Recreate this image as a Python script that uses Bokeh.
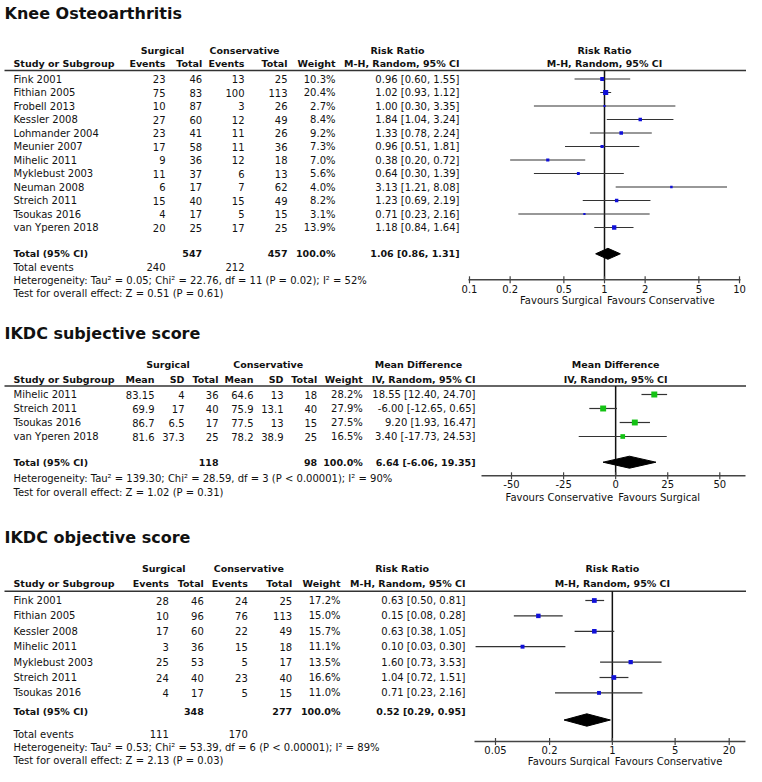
import math
from bokeh.plotting import figure
from bokeh.models import Range1d, LogScale, LinearScale, ColumnDataSource
from bokeh.core.properties import value
from bokeh.embed import file_html
from bokeh.resources import INLINE

# ------------------------------------------------------------------ data
# Panel 1 : Knee Osteoarthritis (Risk Ratio)
knee_studies = ["Fink 2001", "Fithian 2005", "Frobell 2013", "Kessler 2008", "Lohmander 2004",
                "Meunier 2007", "Mihelic 2011", "Myklebust 2003", "Neuman 2008", "Streich 2011",
                "Tsoukas 2016", "van Yperen 2018"]
knee_surg_events = [23, 75, 10, 27, 23, 17, 9, 11, 6, 15, 4, 20]
knee_surg_total = [46, 83, 87, 60, 41, 58, 36, 37, 17, 40, 17, 25]
knee_cons_events = [13, 100, 3, 12, 11, 11, 12, 6, 7, 15, 5, 17]
knee_cons_total = [25, 113, 26, 49, 26, 36, 18, 13, 62, 49, 15, 25]
knee_weight = [10.3, 20.4, 2.7, 8.4, 9.2, 7.3, 7.0, 5.6, 4.0, 8.2, 3.1, 13.9]
knee_rr = [0.96, 1.02, 1.00, 1.84, 1.33, 0.96, 0.38, 0.64, 3.13, 1.23, 0.71, 1.18]
knee_lo = [0.60, 0.93, 0.30, 1.04, 0.78, 0.51, 0.20, 0.30, 1.21, 0.69, 0.23, 0.84]
knee_hi = [1.55, 1.12, 3.35, 3.24, 2.24, 1.81, 0.72, 1.39, 8.08, 2.19, 2.16, 1.64]
knee_total = [1.06, 0.86, 1.31]
knee_total_n = [547, 457]
knee_total_events = [240, 212]
knee_het = "Heterogeneity: Tau\u00b2 = 0.05; Chi\u00b2 = 22.76, df = 11 (P = 0.02); I\u00b2 = 52%"
knee_test = "Test for overall effect: Z = 0.51 (P = 0.61)"
knee_ticks = [0.1, 0.2, 0.5, 1, 2, 5, 10]
knee_tick_labels = ["0.1", "0.2", "0.5", "1", "2", "5", "10"]

# Panel 2 : IKDC subjective score (Mean Difference)
subj_studies = ["Mihelic 2011", "Streich 2011", "Tsoukas 2016", "van Yperen 2018"]
subj_surg_mean = [83.15, 69.9, 86.7, 81.6]
subj_surg_sd = [4, 17, 6.5, 37.3]
subj_surg_total = [36, 40, 17, 25]
subj_cons_mean = [64.6, 75.9, 77.5, 78.2]
subj_cons_sd = [13, 13.1, 13, 38.9]
subj_cons_total = [18, 40, 15, 25]
subj_weight = [28.2, 27.9, 27.5, 16.5]
subj_md = [18.55, -6.00, 9.20, 3.40]
subj_lo = [12.40, -12.65, 1.93, -17.73]
subj_hi = [24.70, 0.65, 16.47, 24.53]
subj_total = [6.64, -6.06, 19.35]
subj_total_n = [118, 98]
subj_het = "Heterogeneity: Tau\u00b2 = 139.30; Chi\u00b2 = 28.59, df = 3 (P < 0.00001); I\u00b2 = 90%"
subj_test = "Test for overall effect: Z = 1.02 (P = 0.31)"
subj_ticks = [-50, -25, 0, 25, 50]
subj_tick_labels = ["-50", "-25", "0", "25", "50"]

# Panel 3 : IKDC objective score (Risk Ratio)
obj_studies = ["Fink 2001", "Fithian 2005", "Kessler 2008", "Mihelic 2011", "Myklebust 2003",
               "Streich 2011", "Tsoukas 2016"]
obj_surg_events = [28, 10, 17, 3, 25, 24, 4]
obj_surg_total = [46, 96, 60, 36, 53, 40, 17]
obj_cons_events = [24, 76, 22, 15, 5, 23, 5]
obj_cons_total = [25, 113, 49, 18, 17, 40, 15]
obj_weight = [17.2, 15.0, 15.7, 11.1, 13.5, 16.6, 11.0]
obj_rr = [0.63, 0.15, 0.63, 0.10, 1.60, 1.04, 0.71]
obj_lo = [0.50, 0.08, 0.38, 0.03, 0.73, 0.72, 0.23]
obj_hi = [0.81, 0.28, 1.05, 0.30, 3.53, 1.51, 2.16]
obj_total = [0.52, 0.29, 0.95]
obj_total_n = [348, 277]
obj_total_events = [111, 170]
obj_het = "Heterogeneity: Tau\u00b2 = 0.53; Chi\u00b2 = 53.39, df = 6 (P < 0.00001); I\u00b2 = 89%"
obj_test = "Test for overall effect: Z = 2.13 (P = 0.03)"
obj_ticks = [0.05, 0.2, 1, 5, 20]
obj_tick_labels = ["0.05", "0.2", "1", "5", "20"]

# ------------------------------------------------------------------ layout / style
W, H = 746, 766
X0, X1 = 0, W
Y0, Y1 = 0, H
FONT = "DejaVu Sans"
TXT = "#111111"
LINE = "#333333"
BLUE = "#1010d8"
GREEN = "#14c214"
FS = "10px"
HB = "9.5px"

p = figure(width=W, height=H, x_range=Range1d(X0, X1), y_range=Range1d(Y1, Y0),
           x_axis_type=None, y_axis_type=None, output_backend="svg", toolbar_location=None,
           min_border=0, outline_line_color=None)


def log_range(pa, va, pb, vb):
    k = (math.log10(vb) - math.log10(va)) / (pb - pa)
    la = math.log10(va)
    return Range1d(10 ** (la - (pa - X0) * k), 10 ** (la + (X1 - pa) * k))


def lin_range(pa, va, pb, vb):
    k = (vb - va) / (pb - pa)
    return Range1d(va - (pa - X0) * k, va + (X1 - pa) * k)


# pixel anchors of first/last tick of each forest axis
p.extra_x_ranges = {
    "knee": log_range(469, knee_ticks[0], 739, knee_ticks[-1]),
    "subj": lin_range(511, subj_ticks[0], 719.3, subj_ticks[-1]),
    "obj": log_range(495, obj_ticks[0], 728.7, obj_ticks[-1]),
}
p.extra_x_scales = {"knee": LogScale(), "subj": LinearScale(), "obj": LogScale()}


def add_text(x, y, t, align="left", bold=False, size=FS, rng="default", dx=0):
    src = ColumnDataSource(dict(x=list(x), y=list(y), t=list(t)))
    p.text(x="x", y="y", text="t", source=src, x_range_name=rng, x_offset=dx,
           text_font=value(FONT), text_font_size=size,
           text_font_style="bold" if bold else "normal",
           text_align=align, text_baseline="middle", text_color=TXT)


def fmt_ci(e, lo, hi):
    return f"{e:.2f} [{lo:.2f}, {hi:.2f}]"


def rows_y(L, n):
    return [L["row0"] + i * L["dy"] for i in range(n)]


def draw_forest(L, rng, est, lo, hi, weight, tot, ticks, tick_labels, null, color,
                head1, head2, fav_left, fav_right):
    ys = rows_y(L, len(est))
    add_text([null, null], [L["h1_y"], L["h2_y"]], [head1, head2], align="center", bold=True,
             size=HB, rng=rng)
    # null line
    p.segment(x0=[null], x1=[null], y0=[L["line_y"]], y1=[L["axis_y"]], x_range_name=rng,
              line_color="#111111", line_width=1.5)
    # confidence intervals
    p.segment(x0=lo, x1=hi, y0=ys, y1=ys, x_range_name=rng, line_color=LINE, line_width=1.2)
    # study squares, side ~ sqrt(weight)
    p.scatter(x=est, y=ys, size=[math.sqrt(w) * 1.05 + 0.4 for w in weight], marker="square",
              fill_color=color, line_color=None, x_range_name=rng)
    # pooled diamond
    yd = L["diamond_y"]
    hh = L["diamond_h"]
    p.patch(x=[tot[1], tot[0], tot[2], tot[0]], y=[yd, yd - hh, yd, yd + hh], x_range_name=rng,
            fill_color="#000000", line_color="#000000", line_width=1)
    # axis
    ay = L["axis_y"]
    p.segment(x0=[L["axis_x0"]], x1=[L["axis_x1"]], y0=[ay], y1=[ay], line_color="#444444",
              line_width=1.5)
    p.segment(x0=ticks, x1=ticks, y0=[ay - 3.5] * len(ticks), y1=[ay + 3.5] * len(ticks),
              x_range_name=rng, line_color="#444444", line_width=1.2)
    add_text(ticks, [L["tick_y"]] * len(ticks), tick_labels, align="center", rng=rng)
    add_text([null], [L["fav_y"]], [fav_left], align="right", rng=rng, dx=-2.5)
    add_text([null], [L["fav_y"]], [fav_right], align="left", rng=rng, dx=2.5)


def draw_rr_panel(L, title, studies, e1, n1, e2, n2, w, est, lo, hi, tot, tot_n, tot_ev, het,
                  test, ticks, tick_labels, rng, color):
    ys = rows_y(L, len(studies))
    n = len(studies)
    c = L["cols"]
    add_text([4], [L["title_y"]], [title], bold=True, size="16px")
    h = L["hdr"]
    add_text([h["g1"], h["g2"], h["est"]], [L["h1_y"]] * 3,
             ["Surgical", "Conservative", "Risk Ratio"], align="center", bold=True, size=HB)
    add_text([c["study"]], [L["h2_y"]], ["Study or Subgroup"], bold=True, size=HB)
    add_text([c["e1"], c["n1"], c["e2"], c["n2"], c["w"], c["ci"]], [L["h2_y"]] * 6,
             ["Events", "Total", "Events", "Total", "Weight", "M-H, Random, 95% CI"],
             align="right", bold=True, size=HB)
    p.segment(x0=[4], x1=[L["line_x1"]], y0=[L["line_y"]], y1=[L["line_y"]],
              line_color=LINE, line_width=1.6)
    add_text([c["study"]] * n, ys, studies)
    for key, col in (("e1", e1), ("n1", n1), ("e2", e2), ("n2", n2)):
        add_text([c[key]] * n, ys, [str(v) for v in col], align="right")
    add_text([c["w"]] * n, ys, [f"{v:.1f}%" for v in w], align="right")
    add_text([c["ci"]] * n, ys, [fmt_ci(a, b, d) for a, b, d in zip(est, lo, hi)], align="right")
    ty = L["total_y"]
    add_text([c["study"]], [ty], ["Total (95% CI)"], bold=True, size=HB)
    add_text([c["n1"], c["n2"], c["w"], c["ci"]], [ty] * 4,
             [str(tot_n[0]), str(tot_n[1]), "100.0%", fmt_ci(*tot)], align="right", bold=True,
             size=HB)
    add_text([c["study"]], [L["events_y"]], ["Total events"])
    add_text([c["e1"], c["e2"]], [L["events_y"]] * 2, [str(v) for v in tot_ev], align="right")
    add_text([c["study"], c["study"]], [L["het_y"], L["test_y"]], [het, test])
    draw_forest(L, rng, est, lo, hi, w, tot, ticks, tick_labels, 1, color,
                "Risk Ratio", "M-H, Random, 95% CI", "Favours Surgical", "Favours Conservative")


L1 = dict(title_y=12.5, h1_y=49.5, h2_y=63, line_y=70, row0=78.5, dy=13.5, total_y=252.7,
          diamond_y=253.3, diamond_h=5.5, events_y=266.7, het_y=280, test_y=292.5,
          axis_y=279.3, tick_y=288.5, fav_y=299.5, line_x1=746, axis_x0=468, axis_x1=740,
          cols=dict(study=13, e1=165, n1=201.7, e2=244, n2=287, w=335, ci=459),
          hdr=dict(g1=162, g2=244, est=397))

L3 = dict(title_y=536.7, h1_y=568.3, h2_y=583.3, line_y=590.7, row0=600, dy=15.4, total_y=710.7,
          diamond_y=719.5, diamond_h=6.2, events_y=733.5, het_y=746.5, test_y=759.5,
          axis_y=741, tick_y=749.5, fav_y=760.5, line_x1=746, axis_x0=474, axis_x1=745,
          cols=dict(study=13, e1=168.3, n1=203.3, e2=247.3, n2=291.7, w=340, ci=465),
          hdr=dict(g1=163.3, g2=248.3, est=401.7))

draw_rr_panel(L1, "Knee Osteoarthritis", knee_studies, knee_surg_events, knee_surg_total,
              knee_cons_events, knee_cons_total, knee_weight, knee_rr, knee_lo, knee_hi,
              knee_total, knee_total_n, knee_total_events, knee_het, knee_test,
              knee_ticks, knee_tick_labels, "knee", BLUE)

draw_rr_panel(L3, "IKDC objective score", obj_studies, obj_surg_events, obj_surg_total,
              obj_cons_events, obj_cons_total, obj_weight, obj_rr, obj_lo, obj_hi,
              obj_total, obj_total_n, obj_total_events, obj_het, obj_test,
              obj_ticks, obj_tick_labels, "obj", BLUE)

# ---- panel 2 (mean difference)
L2 = dict(title_y=333.3, h1_y=364, h2_y=379, line_y=385.5, row0=394, dy=14, total_y=461.7,
          diamond_y=461.7, diamond_h=6, het_y=477.7, test_y=491.7,
          axis_y=475.3, tick_y=483.5, fav_y=496.7, line_x1=746, axis_x0=481, axis_x1=745,
          cols=dict(study=13, m1=154, s1=184, n1=218, m2=253, s2=283, n2=316.7, w=362.3, ci=475),
          hdr=dict(g1=167.5, g2=267.7, est=418))

c = L2["cols"]
ys2 = rows_y(L2, len(subj_studies))
n2 = len(subj_studies)
add_text([4], [L2["title_y"]], ["IKDC subjective score"], bold=True, size="16px")
add_text([L2["hdr"]["g1"], L2["hdr"]["g2"], L2["hdr"]["est"]], [L2["h1_y"]] * 3,
         ["Surgical", "Conservative", "Mean Difference"], align="center", bold=True, size=HB)
add_text([c["study"]], [L2["h2_y"]], ["Study or Subgroup"], bold=True, size=HB)
add_text([c["m1"], c["s1"], c["n1"], c["m2"], c["s2"], c["n2"], c["w"], c["ci"]],
         [L2["h2_y"]] * 8,
         ["Mean", "SD", "Total", "Mean", "SD", "Total", "Weight", "IV, Random, 95% CI"],
         align="right", bold=True, size=HB)
p.segment(x0=[4], x1=[L2["line_x1"]], y0=[L2["line_y"]], y1=[L2["line_y"]],
          line_color=LINE, line_width=1.6)
add_text([c["study"]] * n2, ys2, subj_studies)
for key, col in (("m1", subj_surg_mean), ("s1", subj_surg_sd), ("n1", subj_surg_total),
                 ("m2", subj_cons_mean), ("s2", subj_cons_sd), ("n2", subj_cons_total)):
    add_text([c[key]] * n2, ys2, [f"{v:g}" for v in col], align="right")
add_text([c["w"]] * n2, ys2, [f"{v:.1f}%" for v in subj_weight], align="right")
add_text([c["ci"]] * n2, ys2, [fmt_ci(a, b, d) for a, b, d in zip(subj_md, subj_lo, subj_hi)],
         align="right")
add_text([c["study"]], [L2["total_y"]], ["Total (95% CI)"], bold=True, size=HB)
add_text([c["n1"], c["n2"], c["w"], c["ci"]], [L2["total_y"]] * 4,
         [str(subj_total_n[0]), str(subj_total_n[1]), "100.0%", fmt_ci(*subj_total)],
         align="right", bold=True, size=HB)
add_text([c["study"], c["study"]], [L2["het_y"], L2["test_y"]], [subj_het, subj_test])
draw_forest(L2, "subj", subj_md, subj_lo, subj_hi, subj_weight, subj_total, subj_ticks,
            subj_tick_labels, 0, GREEN, "Mean Difference", "IV, Random, 95% CI",
            "Favours Conservative", "Favours Surgical")

open("out.html", "w").write(file_html(p, INLINE))
